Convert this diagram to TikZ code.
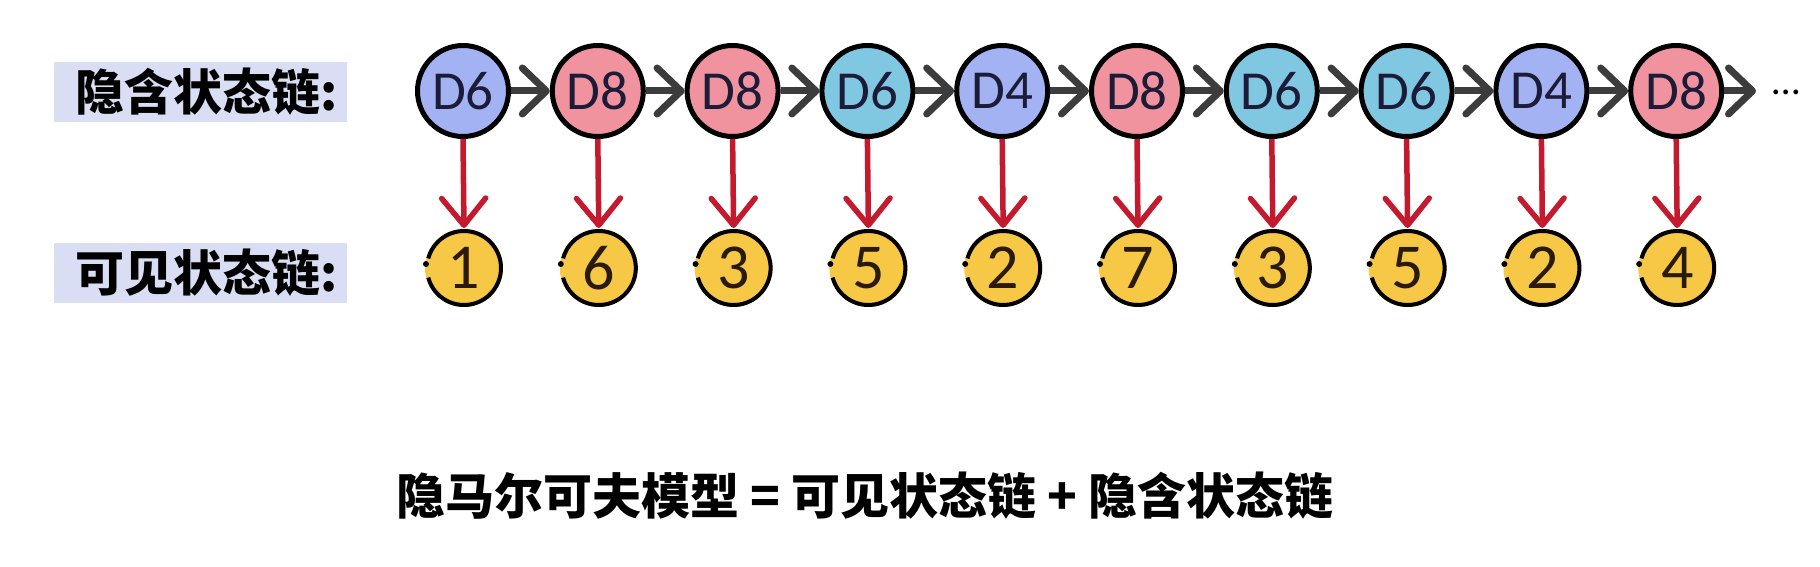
\documentclass[tikz,border=0pt]{standalone}
\usepackage[dvipsnames]{xcolor}
\usepackage{fontspec}
\newfontfamily\cjk{Noto Sans CJK SC}
\newfontfamily\numfont{Carlito}
\usepackage{tikz}
\usetikzlibrary{
  arrows.meta,
  calc,
  positioning}

\definecolor{hidlav}{HTML}{A3B2F2}
\definecolor{hidpink}{HTML}{F0939F}
\definecolor{hidcyan}{HTML}{80C8E2}
\definecolor{hidtext}{HTML}{1C1C38}
\definecolor{obsyellow}{HTML}{F6C846}
\definecolor{obstext}{HTML}{2A1A0A}
\definecolor{labelbg}{HTML}{D9DEF4}
\definecolor{chaingray}{HTML}{3C3C3C}
\definecolor{emitred}{HTML}{C41A2E}

\begin{document}
\begin{tikzpicture}[x=1pt,y=1pt,
        hid/.style={circle,draw=black,line width=5pt,minimum size=91pt,inner sep=0pt,
            font=\numfont\fontsize{55}{55}\selectfont,text=hidtext},
        obs/.style={circle,fill=obsyellow,minimum size=78pt,inner sep=0pt,outer sep=0pt,
            font=\numfont\fontsize{64}{64}\selectfont,text=obstext},
        lbl/.style={fill=labelbg,text width=275pt,align=right,inner xsep=9pt,inner ysep=0pt,
            minimum height=60pt,font=\cjk\bfseries\fontsize{49}{49}\selectfont},
        chainarrow/.style={draw=chaingray,line width=7pt,
            -{Straight Barb[length=24pt,width=46pt,round]}},
        emitarrow/.style={draw=emitred,line width=5.5pt,shorten >=1pt,
            -{Straight Barb[length=27pt,width=44pt,round]}}]
        \useasboundingbox (0,0) rectangle (1820,-567);

        \node[lbl] (hidlabel) at (200,-92) {隐含状态链:};
        \node[lbl] (obslabel) at (200,-273) {可见状态链:};

        \foreach \n/\c [count=\i] in {D6/hidlav,D8/hidpink,D8/hidpink,D6/hidcyan,D4/hidlav,
                                      D8/hidpink,D6/hidcyan,D6/hidcyan,D4/hidlav,D8/hidpink} {
            \node[hid,fill=\c] (h\i) at ({463+134.8*(\i-1)},-91) {\n};
        }
        \foreach \d [count=\i] in {1,6,3,5,2,7,3,5,2,4} {
            \node[obs] (o\i) at ({464+134.8*(\i-1)},-268) {\d};
            \draw[line width=4pt] ($(o\i.center)+(195:37pt)$) arc[start angle=195,end angle=525,radius=37pt];
            \fill ($(o\i.center)+(-38pt,4pt)$) circle[radius=3pt];
        }

        \foreach \i [remember=\i as \last (initially 1)] in {2,...,10} {
            \draw[chainarrow] (h\last.east) -- (h\i.west);
        }
        \coordinate (chainend) at (1756,-91);
        \draw[chainarrow] (h10.east) -- (chainend);
        \node[anchor=base west,inner sep=0pt,font=\numfont\fontsize{40}{40}\selectfont] (more) at (1772,-95) {…};

        \foreach \i in {1,...,10} {
            \draw[emitarrow] (h\i.south) -- (o\i.north);
        }

        \node[font=\cjk\bfseries\fontsize{49}{49}\selectfont] (formula) at (865,-496)
            {隐马尔可夫模型 = 可见状态链 + 隐含状态链};
    \end{tikzpicture}
\end{document}
